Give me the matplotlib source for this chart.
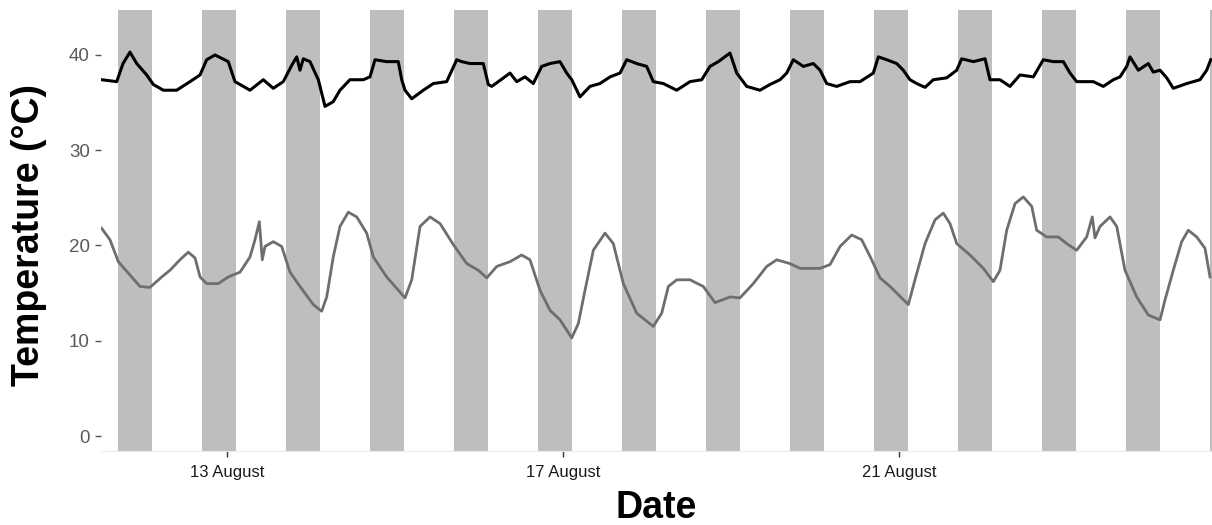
import matplotlib
matplotlib.use("Agg")
import matplotlib.pyplot as plt
import matplotlib.dates as mdates
from datetime import datetime

# time as fractional day of August (13.0 = 13 August 00:00)
body_day = [11.508, 11.687, 11.762, 11.845, 11.925, 12.044, 12.123, 12.242, 12.401, 12.560,
            12.679, 12.758, 12.857, 13.015, 13.095, 13.155, 13.274, 13.432, 13.551, 13.670,
            13.770, 13.830, 13.869, 13.908, 13.988, 14.087, 14.167, 14.265, 14.345, 14.464,
            14.623, 14.702, 14.762, 14.901, 15.039, 15.080, 15.119, 15.199, 15.337, 15.456,
            15.615, 15.735, 15.794, 15.893, 16.051, 16.111, 16.151, 16.230, 16.369, 16.449,
            16.548, 16.646, 16.746, 16.845, 16.964, 17.044, 17.104, 17.202, 17.321, 17.440,
            17.560, 17.679, 17.758, 17.877, 17.996, 18.075, 18.194, 18.354, 18.512, 18.651,
            18.750, 18.849, 18.988, 19.068, 19.187, 19.345, 19.464, 19.583, 19.663, 19.742,
            19.861, 19.980, 20.060, 20.139, 20.258, 20.417, 20.536, 20.694, 20.754, 20.854,
            20.973, 21.051, 21.131, 21.211, 21.310, 21.408, 21.568, 21.687, 21.746, 21.885,
            22.024, 22.083, 22.202, 22.321, 22.440, 22.599, 22.718, 22.837, 22.956, 23.036,
            23.115, 23.313, 23.432, 23.551, 23.631, 23.711, 23.750, 23.849, 23.968, 24.027,
            24.107, 24.187, 24.265, 24.425, 24.583, 24.663, 24.711]
body_temp = [37.4, 37.2, 39.1, 40.3, 39.1, 37.9, 36.9, 36.3, 36.3, 37.2,
             37.9, 39.5, 40.0, 39.3, 37.2, 36.9, 36.3, 37.4, 36.5, 37.2,
             38.9, 39.8, 38.4, 39.6, 39.3, 37.4, 34.6, 35.1, 36.3, 37.4,
             37.4, 37.7, 39.5, 39.3, 39.3, 37.4, 36.3, 35.4, 36.3, 37.0,
             37.2, 39.5, 39.3, 39.1, 39.1, 36.9, 36.7, 37.2, 38.1, 37.2,
             37.7, 37.0, 38.8, 39.1, 39.3, 38.1, 37.4, 35.6, 36.7, 37.0,
             37.7, 38.1, 39.5, 39.1, 38.8, 37.2, 37.0, 36.3, 37.2, 37.4,
             38.8, 39.3, 40.2, 38.1, 36.7, 36.3, 36.9, 37.4, 38.1, 39.5,
             38.8, 39.1, 38.4, 37.0, 36.7, 37.2, 37.2, 38.1, 39.8, 39.5,
             39.1, 38.4, 37.4, 37.0, 36.6, 37.4, 37.6, 38.4, 39.6, 39.3,
             39.6, 37.4, 37.4, 36.7, 37.9, 37.7, 39.5, 39.3, 39.3, 38.1,
             37.2, 37.2, 36.7, 37.4, 37.7, 38.8, 39.8, 38.4, 39.1, 38.2,
             38.4, 37.6, 36.5, 37.0, 37.4, 38.4, 39.5]

air_day = [11.508, 11.607, 11.706, 11.845, 11.964, 12.083, 12.223, 12.321, 12.440, 12.539,
           12.619, 12.679, 12.758, 12.896, 13.015, 13.155, 13.274, 13.333, 13.385, 13.420,
           13.452, 13.551, 13.651, 13.750, 13.869, 14.027, 14.127, 14.187, 14.265, 14.345,
           14.444, 14.544, 14.663, 14.742, 14.901, 15.060, 15.119, 15.199, 15.298, 15.417,
           15.536, 15.694, 15.854, 15.992, 16.092, 16.211, 16.369, 16.508, 16.607, 16.726,
           16.845, 16.964, 17.104, 17.182, 17.262, 17.361, 17.500, 17.599, 17.718, 17.877,
           18.075, 18.175, 18.254, 18.354, 18.512, 18.670, 18.810, 18.988, 19.107, 19.265,
           19.425, 19.544, 19.702, 19.821, 20.060, 20.179, 20.298, 20.437, 20.556, 20.675,
           20.774, 20.893, 21.111, 21.190, 21.310, 21.429, 21.527, 21.607, 21.687, 21.845,
           22.004, 22.123, 22.202, 22.282, 22.381, 22.480, 22.580, 22.639, 22.758, 22.896,
           22.996, 23.115, 23.234, 23.301, 23.333, 23.393, 23.512, 23.592, 23.690, 23.830,
           23.968, 24.107, 24.167, 24.265, 24.365, 24.444, 24.544, 24.643, 24.702]
air_temp = [21.8, 20.6, 18.3, 16.9, 15.7, 15.6, 16.7, 17.4, 18.5, 19.3,
            18.7, 16.7, 16.0, 16.0, 16.7, 17.2, 18.8, 20.6, 22.5, 18.5,
            19.9, 20.4, 19.9, 17.2, 15.7, 13.8, 13.1, 14.6, 18.8, 22.0,
            23.5, 23.0, 21.3, 18.8, 16.7, 15.1, 14.5, 16.4, 22.0, 23.0,
            22.3, 20.1, 18.1, 17.4, 16.6, 17.8, 18.3, 19.0, 18.5, 15.3,
            13.2, 12.2, 10.3, 11.8, 15.3, 19.5, 21.3, 20.2, 16.0, 12.9,
            11.5, 12.9, 15.7, 16.4, 16.4, 15.7, 14.0, 14.6, 14.5, 16.0,
            17.8, 18.5, 18.1, 17.6, 17.6, 18.0, 19.9, 21.1, 20.6, 18.5,
            16.6, 15.7, 13.8, 16.4, 20.2, 22.7, 23.4, 22.3, 20.2, 19.0,
            17.6, 16.2, 17.4, 21.6, 24.4, 25.1, 24.1, 21.6, 20.9, 20.9,
            20.2, 19.5, 20.9, 23.0, 20.8, 22.0, 23.0, 22.0, 17.4, 14.6,
            12.7, 12.2, 14.3, 17.4, 20.4, 21.6, 20.9, 19.7, 16.7]

# shaded periods: start each evening, end early next morning
night_days = list(range(11, 25))
night_start_hour = 16.9
night_end_hour = 2.7

tick_days = [13, 17, 21]
tick_labels = ["13 August", "17 August", "21 August"]

base = mdates.date2num(datetime(2018, 8, 1))


def to_num(d):
    return base + (d - 1)


plt.rcParams["font.family"] = ["Liberation Sans", "DejaVu Sans"]

fig = plt.figure(figsize=(12.12, 5.25), dpi=100)
ax = fig.add_axes([101 / 1212, 1 - 450.7 / 525, 1 - 101 / 1212, 440.7 / 525])

for d in night_days:
    ax.axvspan(to_num(d + night_start_hour / 24), to_num(d + 1 + night_end_hour / 24),
               color="#bebebe", lw=0, zorder=1)

ax.plot([to_num(d) for d in air_day], air_temp, color="#6e6e6e", lw=2.0, zorder=3)
ax.plot([to_num(d) for d in body_day], body_temp, color="black", lw=2.2, zorder=4)

ax.set_xlim(to_num(11.5), to_num(24.726))
ax.set_ylim(-1.54, 44.72)
ax.set_yticks([0, 10, 20, 30, 40])
ax.set_xticks([to_num(d) for d in tick_days])
ax.set_xticklabels(tick_labels)

for s in ["top", "right", "left"]:
    ax.spines[s].set_visible(False)
ax.spines["bottom"].set_color("#ebebeb")
ax.spines["bottom"].set_linewidth(0.8)

ax.tick_params(axis="y", length=4, width=1, color="#555555", labelcolor="#5a5a5a",
               labelsize=13.5, pad=4)
ax.tick_params(axis="x", length=4.5, width=1, color="#333333", labelcolor="#1a1a1a",
               labelsize=12, pad=6)

ax.set_ylabel("Temperature (°C)", fontsize=27, fontweight="bold")
ax.yaxis.set_label_coords(-0.065, 0.49)
ax.yaxis.label.set_verticalalignment("center")
ax.set_xlabel("Date", fontsize=27, fontweight="bold")
ax.xaxis.set_label_coords(0.5, -0.13)
ax.xaxis.label.set_verticalalignment("center")

fig.savefig("out.png", dpi=100)
